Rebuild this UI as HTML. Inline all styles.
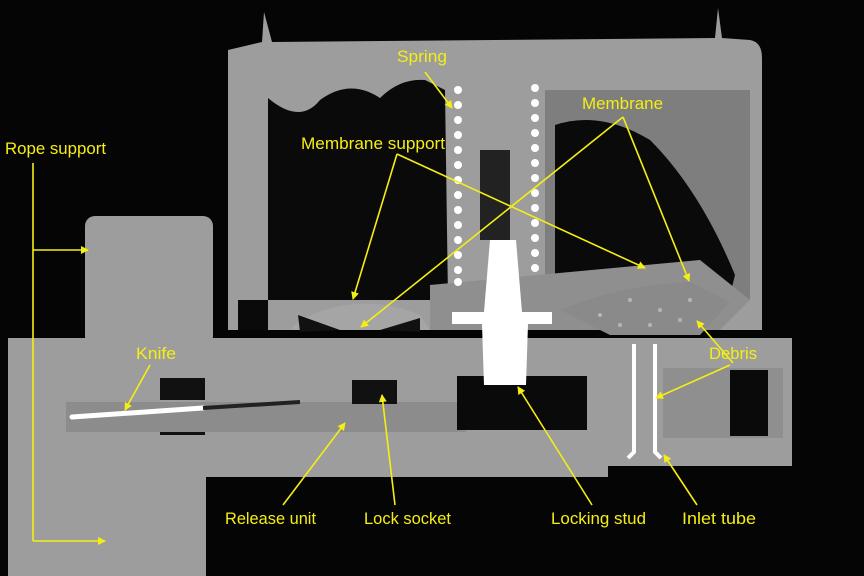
<!DOCTYPE html>
<html><head><meta charset="utf-8"><style>
html,body{margin:0;padding:0;background:#000;width:864px;height:576px;overflow:hidden}
svg{display:block}
text{font-family:"Liberation Sans Narrow","Liberation Sans",sans-serif;font-size:17px;fill:#f5ee14}
</style></head><body>
<svg width="864" height="576" viewBox="0 0 864 576" xmlns="http://www.w3.org/2000/svg">
<rect width="864" height="576" fill="#050505"/>
<defs><marker id="a" markerWidth="8" markerHeight="8" refX="7" refY="4" orient="auto" markerUnits="userSpaceOnUse"><path d="M0,0 L8,4 L0,8 Z" fill="#f5ee14"/></marker></defs>
<g fill="#9d9d9d">
<path d="M228,50 L262,42 L264,12 L272,42 L715,38 L718,8 L722,38 L750,40 Q762,42 762,58 L762,330 L228,330 Z"/>
<rect x="85" y="216" width="128" height="130" rx="10"/>
<rect x="8" y="338" width="784" height="128"/>
<rect x="8" y="460" width="600" height="17"/>
<rect x="8" y="470" width="198" height="106"/>
</g>
<path d="M268,98 Q300,125 320,100 Q350,78 380,98 Q400,78 425,80 L445,90 L448,300 L268,300 Z" fill="#0a0a0a"/>
<rect x="238" y="300" width="30" height="30" fill="#0a0a0a"/>
<rect x="545" y="90" width="205" height="210" fill="#7e7e7e"/>
<path d="M555,125 Q600,110 650,140 Q700,190 735,275 L730,295 L555,290 Z" fill="#0a0a0a"/>
<rect x="480" y="150" width="30" height="90" fill="#222"/>
<path d="M300,320 Q360,290 420,315 L430,330 L290,330 Z" fill="#a5a5a5"/>
<path d="M298,315 L340,330 L300,332 Z M380,330 L420,318 L420,332 Z" fill="#111"/>
<path d="M430,285 L700,260 L750,300 L720,330 L430,330 Z" fill="#8f8f8f"/>
<path d="M560,310 Q620,285 690,282 L730,302 L700,335 L610,335 Z" fill="#8a8a8a"/>
<g fill="#b5b5b5"><circle cx="600" cy="315" r="2"/><circle cx="630" cy="300" r="2"/><circle cx="660" cy="310" r="2"/><circle cx="690" cy="300" r="2"/><circle cx="680" cy="320" r="2"/><circle cx="620" cy="325" r="2"/><circle cx="650" cy="325" r="2"/></g>
<rect x="160" y="378" width="45" height="22" fill="#111"/>
<rect x="160" y="420" width="45" height="15" fill="#111"/>
<rect x="66" y="402" width="400" height="30" fill="#8c8c8c"/>
<rect x="352" y="380" width="45" height="24" fill="#111"/>
<rect x="457" y="376" width="130" height="54" fill="#0a0a0a"/>
<rect x="663" y="368" width="120" height="70" fill="#8f8f8f"/>
<rect x="730" y="370" width="38" height="66" fill="#0a0a0a"/>
<rect x="783" y="338" width="9" height="128" fill="#9d9d9d"/>
<rect x="206" y="477" width="658" height="99" fill="#050505"/>
<line x1="72" y1="417" x2="203" y2="408" stroke="#fff" stroke-width="5" stroke-linecap="round"/>
<line x1="203" y1="408" x2="300" y2="402" stroke="#222" stroke-width="4"/>
<path d="M490,240 L516,240 L522,312 L552,312 L552,324 L528,324 L526,385 L484,385 L482,324 L452,324 L452,312 L484,312 Z" fill="#fff"/>
<path d="M634,344 L634,452 L628,458 M655,344 L655,452 L661,458" stroke="#fff" stroke-width="4" fill="none"/>
<g fill="#fff">
<circle cx="458" cy="90" r="4"/><circle cx="458" cy="105" r="4"/><circle cx="458" cy="120" r="4"/><circle cx="458" cy="135" r="4"/><circle cx="458" cy="150" r="4"/><circle cx="458" cy="165" r="4"/><circle cx="458" cy="180" r="4"/><circle cx="458" cy="195" r="4"/><circle cx="458" cy="210" r="4"/><circle cx="458" cy="225" r="4"/><circle cx="458" cy="240" r="4"/><circle cx="458" cy="255" r="4"/><circle cx="458" cy="270" r="4"/><circle cx="458" cy="282" r="4"/>
<circle cx="535" cy="88" r="4"/><circle cx="535" cy="103" r="4"/><circle cx="535" cy="118" r="4"/><circle cx="535" cy="133" r="4"/><circle cx="535" cy="148" r="4"/><circle cx="535" cy="163" r="4"/><circle cx="535" cy="178" r="4"/><circle cx="535" cy="193" r="4"/><circle cx="535" cy="208" r="4"/><circle cx="535" cy="223" r="4"/><circle cx="535" cy="238" r="4"/><circle cx="535" cy="253" r="4"/><circle cx="535" cy="268" r="4"/>
</g>
<g stroke="#f5ee14" stroke-width="1.6" fill="none">
<polyline points="33,163 33,541"/>
<line x1="33" y1="250" x2="88" y2="250" marker-end="url(#a)"/>
<line x1="33" y1="541" x2="105" y2="541" marker-end="url(#a)"/>
<line x1="425" y1="72" x2="452" y2="108" marker-end="url(#a)"/>
<line x1="397" y1="154" x2="353" y2="299" marker-end="url(#a)"/>
<line x1="397" y1="154" x2="645" y2="268" marker-end="url(#a)"/>
<line x1="623" y1="117" x2="361" y2="327" marker-end="url(#a)"/>
<line x1="623" y1="117" x2="689" y2="281" marker-end="url(#a)"/>
<line x1="150" y1="365" x2="125" y2="410" marker-end="url(#a)"/>
<line x1="733" y1="363" x2="697" y2="321" marker-end="url(#a)"/>
<line x1="730" y1="365" x2="656" y2="398" marker-end="url(#a)"/>
<line x1="283" y1="505" x2="345" y2="423" marker-end="url(#a)"/>
<line x1="395" y1="505" x2="382" y2="395" marker-end="url(#a)"/>
<line x1="592" y1="505" x2="518" y2="387" marker-end="url(#a)"/>
<line x1="697" y1="505" x2="664" y2="455" marker-end="url(#a)"/>
</g>
<text x="397" y="62" textLength="50" lengthAdjust="spacingAndGlyphs">Spring</text>
<text x="582" y="109" textLength="81" lengthAdjust="spacingAndGlyphs">Membrane</text>
<text x="301" y="149" textLength="144" lengthAdjust="spacingAndGlyphs">Membrane support</text>
<text x="5" y="154" textLength="101" lengthAdjust="spacingAndGlyphs">Rope support</text>
<text x="136" y="359" textLength="40" lengthAdjust="spacingAndGlyphs">Knife</text>
<text x="709" y="359" textLength="48" lengthAdjust="spacingAndGlyphs">Debris</text>
<text x="225" y="524" textLength="91" lengthAdjust="spacingAndGlyphs">Release unit</text>
<text x="364" y="524" textLength="87" lengthAdjust="spacingAndGlyphs">Lock socket</text>
<text x="551" y="524" textLength="95" lengthAdjust="spacingAndGlyphs">Locking stud</text>
<text x="682" y="524" textLength="74" lengthAdjust="spacingAndGlyphs">Inlet tube</text>
</svg>
</body></html>
